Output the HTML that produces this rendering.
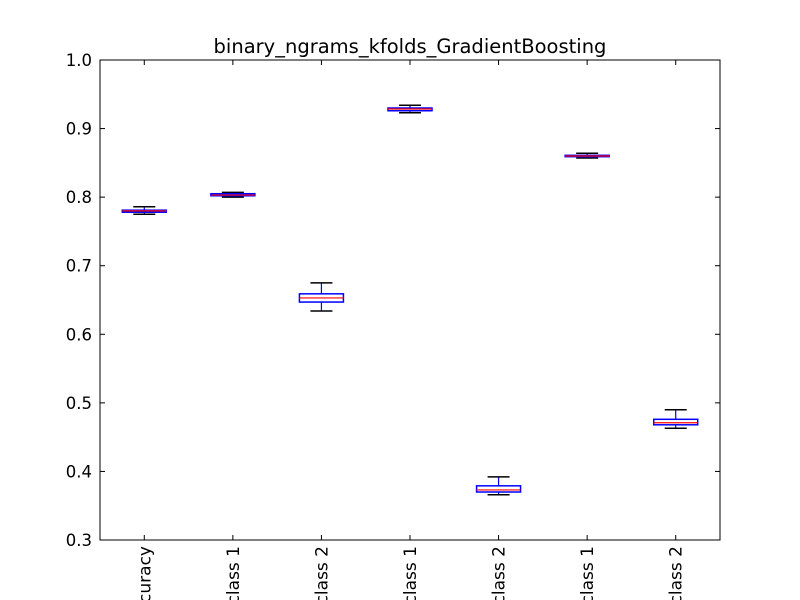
<!DOCTYPE html>
<html><head><meta charset="utf-8"><style>
html,body{margin:0;background:#fff;width:800px;height:600px;overflow:hidden;}
svg{display:block;overflow:hidden;font-family:"DejaVu Sans","Liberation Sans",sans-serif;}
</style></head><body>
<svg id="chart" width="800" height="600" viewBox="0 0 800 600">
<rect x="0" y="0" width="800" height="600" fill="#fff"/>
<text x="410" y="53" font-size="19.5" text-anchor="middle">binary_ngrams_kfolds_GradientBoosting</text>
<g id="marks"></g>
<rect x="100" y="60" width="620" height="480" fill="none" stroke="#000" stroke-width="1"/>
</svg>
<script>
const categories=["accuracy","precision class 1","precision class 2","recall class 1","recall class 2","f1 class 1","f1 class 2"];
const whiskerLow=[0.775,0.800,0.634,0.923,0.366,0.857,0.463];
const q1=[0.778,0.802,0.647,0.926,0.370,0.859,0.468];
const medians=[0.780,0.803,0.653,0.9285,0.373,0.860,0.471];
const q3=[0.781,0.805,0.659,0.930,0.379,0.861,0.476];
const whiskerHigh=[0.786,0.807,0.675,0.934,0.392,0.864,0.490];
const yTicks=[0.3,0.4,0.5,0.6,0.7,0.8,0.9,1.0];
const yTickLabels=["0.3","0.4","0.5","0.6","0.7","0.8","0.9","1.0"];
const X0=100,X1=720,Y0=60,Y1=540,YMIN=0.3,YMAX=1.0;
const ys=v=>Y1-(v-YMIN)/(YMAX-YMIN)*(Y1-Y0);
const xs=i=>X0+(i+0.5)*(X1-X0)/categories.length;
const NS="http://www.w3.org/2000/svg";
const g=document.getElementById('marks');
function mk(tag,attrs){const e=document.createElementNS(NS,tag);for(const k in attrs)e.setAttribute(k,attrs[k]);g.appendChild(e);return e;}
yTicks.forEach((t,i)=>{
  const y=ys(t);
  let a=mk('line',{x1:X0,x2:X0+5,y1:y,y2:y,stroke:'#000'});
  
  
  let b=mk('line',{x1:X1-5,x2:X1,y1:y,y2:y,stroke:'#000'});
  
  
  let tx=mk('text',{x:X0-8,y:y+6,'font-size':16.5,'text-anchor':'end'});
  tx.textContent=yTickLabels[i];
  
  
});
categories.forEach((c,i)=>{
  const x=xs(i),hw=22,cw=11;
  let t1=mk('line',{x1:x,x2:x,y1:Y1,y2:Y1-5,stroke:'#000'});
  
  
  let t2=mk('line',{x1:x,x2:x,y1:Y0,y2:Y0+5,stroke:'#000'});
  
  
  let lab=mk('text',{x:0,y:0,'font-size':17,'text-anchor':'end',transform:`translate(${x+6},${Y1+6}) rotate(-90)`});
  lab.textContent=c;
  
  
  let w1=mk('line',{x1:x,x2:x,y1:ys(q3[i]),y2:ys(whiskerHigh[i]),stroke:'#0000ff','stroke-width':1.2});
  
  
  let w2=mk('line',{x1:x,x2:x,y1:ys(q1[i]),y2:ys(whiskerLow[i]),stroke:'#0000ff','stroke-width':1.2});
  
  
  let c1=mk('line',{x1:x-cw,x2:x+cw,y1:ys(whiskerHigh[i]),y2:ys(whiskerHigh[i]),stroke:'#000','stroke-width':1.5});
  
  
  let c2=mk('line',{x1:x-cw,x2:x+cw,y1:ys(whiskerLow[i]),y2:ys(whiskerLow[i]),stroke:'#000','stroke-width':1.5});
  
  
  let bx=mk('rect',{x:x-hw,y:ys(q3[i]),width:2*hw,height:Math.max(ys(q1[i])-ys(q3[i]),1),fill:'none',stroke:'#0000ff','stroke-width':1.5});
  
  
  let md=mk('line',{x1:x-hw,x2:x+hw,y1:ys(medians[i]),y2:ys(medians[i]),stroke:'#ff0000','stroke-width':1.2});
  
  
});
</script>
</body></html>
